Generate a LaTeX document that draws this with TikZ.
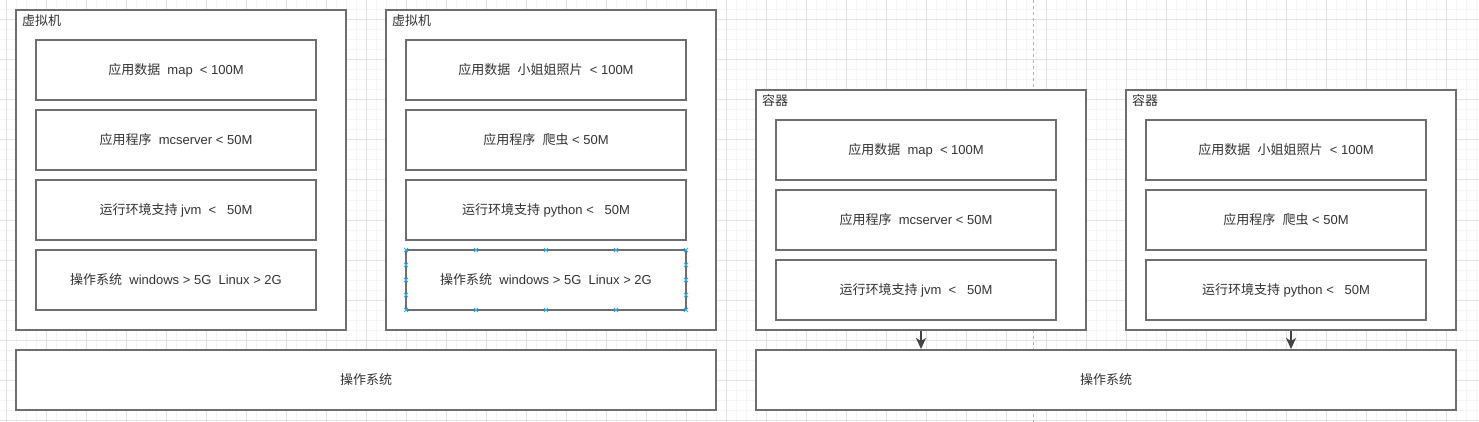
\documentclass[tikz,border=0pt]{standalone}
\usepackage{fontspec}
\setmainfont{Liberation Sans}
\newfontfamily\cjk{Noto Sans CJK SC}
\usetikzlibrary{arrows.meta}
\definecolor{linegray}{HTML}{6E6E6E}
\definecolor{arrowgray}{HTML}{444444}
\definecolor{textgray}{HTML}{333333}
\definecolor{gridminor}{HTML}{F5F5F5}
\definecolor{gridmajor}{HTML}{E2E2E2}
\definecolor{handlecol}{HTML}{29B6F2}
\newcommand{\zh}[1]{{\cjk #1}}

\begin{document}
\begin{tikzpicture}[x=1pt,y=-1pt,>={Stealth[length=11pt,width=10pt,inset=3pt]},
outer/.style ={rectangle, draw=linegray, line width=2pt, fill=white, minimum width=330pt, minimum height=320pt, inner sep=0pt},
holder/.style ={rectangle, draw=linegray, line width=2pt, fill=white, minimum width=330pt, minimum height=240pt, inner sep=0pt},
layer/.style ={rectangle, draw=linegray, line width=2pt, fill=white, minimum width=280pt, minimum height=60pt, inner sep=0pt, text=textgray, font=\fontsize{13}{15}\selectfont},
base/.style ={rectangle, draw=linegray, line width=2pt, fill=white, minimum width=700pt, minimum height=60pt, inner sep=0pt, text=textgray, font=\fontsize{13}{15}\selectfont},
title/.style ={anchor=north west, inner sep=0pt, text=textgray, font=\fontsize{13}{15}\selectfont},
handle/.style ={draw=handlecol, line width=0.8pt}
]
\useasboundingbox (0,0) rectangle (1479,422);
\fill[white] (0,0) rectangle (1479,422);
% grid
\foreach \x in {6.7,16.7,...,1479} \draw[gridminor, line width=1pt] (\x,0) -- (\x,422);
\foreach \y in {0,10,...,420} \draw[gridminor, line width=1pt] (0,\y) -- (1479,\y);
\foreach \x in {6.7,46.7,...,1479} \draw[gridmajor, line width=1pt] (\x,0) -- (\x,422);
\foreach \y in {20,60,...,420} \draw[gridmajor, line width=1pt] (0,\y) -- (1479,\y);
\draw[dashed, gray!60, line width=1pt] (1033,0) -- (1033,422);

% virtual machines
\draw (181,170) node[outer] (vmA) {};
\draw (551,170) node[outer] (vmB) {};
\node[title] at ([shift={(7,5)}]vmA.north west) {\zh{虚拟机}};
\node[title] at ([shift={(7,5)}]vmB.north west) {\zh{虚拟机}};
\draw (176,70) node[layer] (dataA) {\zh{应用数据}\ \ map\ \ < 100M};
\draw (176,140) node[layer] (appA) {\zh{应用程序}\ \ mcserver < 50M};
\draw (176,210) node[layer] (envA) {\zh{运行环境支持} jvm\ \ <\ \ \ 50M};
\draw (176,280) node[layer] (sysA) {\zh{操作系统}\ \ windows > 5G\ \ Linux > 2G};
\draw (546,70) node[layer] (dataB) {\zh{应用数据}\ \ \zh{小姐姐照片}\ \ < 100M};
\draw (546,140) node[layer] (appB) {\zh{应用程序}\ \ \zh{爬虫} < 50M};
\draw (546,210) node[layer] (envB) {\zh{运行环境支持} python <\ \ \ 50M};
\draw (546,280) node[layer] (sysB) {\zh{操作系统}\ \ windows > 5G\ \ Linux > 2G};
\foreach \x in {406,476,546,616,686} {
  \draw[handle] (\x-2,248) -- (\x+2,252) (\x-2,252) -- (\x+2,248);
  \draw[handle] (\x-2,308) -- (\x+2,312) (\x-2,312) -- (\x+2,308);
}
\foreach \x in {406,686} \foreach \y in {265,280,295}
  \draw[handle] (\x-2,\y-2) -- (\x+2,\y+2) (\x-2,\y+2) -- (\x+2,\y-2);
\draw (366,380) node[base] (osL) {\zh{操作系统}};

% containers
\draw (921,210) node[holder] (ctA) {};
\draw (1291,210) node[holder] (ctB) {};
\node[title] at ([shift={(7,5)}]ctA.north west) {\zh{容器}};
\node[title] at ([shift={(7,5)}]ctB.north west) {\zh{容器}};
\draw (916,150) node[layer] (dataC) {\zh{应用数据}\ \ map\ \ < 100M};
\draw (916,220) node[layer] (appC) {\zh{应用程序}\ \ mcserver < 50M};
\draw (916,290) node[layer] (envC) {\zh{运行环境支持} jvm\ \ <\ \ \ 50M};
\draw (1286,150) node[layer] (dataD) {\zh{应用数据}\ \ \zh{小姐姐照片}\ \ < 100M};
\draw (1286,220) node[layer] (appD) {\zh{应用程序}\ \ \zh{爬虫} < 50M};
\draw (1286,290) node[layer] (envD) {\zh{运行环境支持} python <\ \ \ 50M};
\draw (1106,380) node[base] (osR) {\zh{操作系统}};
\draw[->, draw=arrowgray, fill=arrowgray, line width=1.3pt] (ctA.south) -- (ctA.south |- osR.north);
\draw[->, draw=arrowgray, fill=arrowgray, line width=1.3pt] (ctB.south) -- (ctB.south |- osR.north);
\end{tikzpicture}
\end{document}
